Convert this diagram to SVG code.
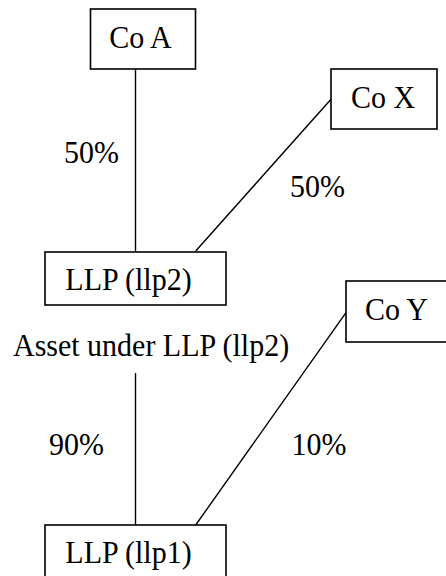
<svg xmlns="http://www.w3.org/2000/svg" width="446" height="576" viewBox="0 0 446 576">
<style>
rect{fill:#fff;stroke:#000;stroke-width:1.6}
line{stroke:#000;stroke-width:1.4}
text{font-family:"Liberation Serif","Times New Roman",serif;font-size:30px;fill:#000}
.m{text-anchor:middle}
</style>
<rect x="0" y="0" width="446" height="576" style="stroke:none"/>
<g id="connectors">
<line x1="135.5" y1="69" x2="135.5" y2="251"/>
<line x1="331" y1="99.3" x2="195.7" y2="251"/>
<line x1="135.5" y1="373" x2="135.5" y2="525"/>
<line x1="346" y1="312.7" x2="195.7" y2="525"/>
</g>
<g id="coA"><rect x="90.5" y="9" width="105" height="60"/><text class="m" transform="translate(140.5,48) scale(1,1.07)">Co A</text></g>
<g id="coX"><rect x="331" y="69" width="106" height="60"/><text class="m" transform="translate(383,107.5) scale(1,1.07)">Co X</text></g>
<g id="llp2"><rect x="45" y="252" width="181" height="53"/><text class="m" transform="translate(128.5,290) scale(1,1.07)">LLP (llp2)</text></g>
<g id="coY"><rect x="346" y="281" width="106" height="61"/><text class="m" transform="translate(396.5,320) scale(1,1.07)">Co Y</text></g>
<g id="asset"><text transform="translate(13,356) scale(1,1.07)">Asset under LLP (llp2)</text></g>
<g id="llp1"><rect x="45" y="525" width="181" height="60"/><text class="m" transform="translate(128.5,563) scale(1,1.07)">LLP (llp1)</text></g>
<g id="labels">
<text transform="translate(64,163) scale(1,1.07)">50%</text>
<text transform="translate(290,196.5) scale(1,1.07)">50%</text>
<text transform="translate(49,455) scale(1,1.07)">90%</text>
<text transform="translate(291.5,455) scale(1,1.07)">10%</text>
</g>
</svg>
